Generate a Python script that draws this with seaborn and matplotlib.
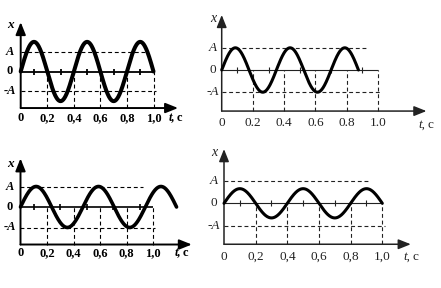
import numpy as np
import pandas as pd
import matplotlib
matplotlib.use("Agg")
import matplotlib.pyplot as plt
import seaborn as sns

# ---------------- data ----------------
major_t = [0.0, 0.2, 0.4, 0.6, 0.8, 1.0]
minor_t = [0.1, 0.3, 0.5, 0.7, 0.9]
labels_comma = ["0", "0,2", "0,4", "0,6", "0,8", "1,0"]
labels_dot = ["0", "0.2", "0.4", "0.6", "0.8", "1.0"]
level_vals = [1, 0, -1]
level_labels = ["A", "0", "-A"]

amplitude = [1.5, 1.0, 1.0, 0.65]      # in units of A
period = [0.4, 0.35, 0.47, 0.4]        # s
duration = [1.0, 0.875, 1.175, 1.0]    # s
a_line_end = [0.94, 0.93, 0.92, 0.92]
nega_line_end = [1.02, 1.01, 1.01, 1.02]

# ---------------- layout / style ----------------
W, H = 441, 288
layouts = [
    dict(ox=20.7, oy=71.5, sx=132.8, sy=19.75, ybot=-1.85, ytop=2.5, xend=1.185,
         bold=True, labels=labels_comma, tly=118, tcx=176, tcy=118, ylx=9.5,
         xlab=(10, 25), clw=2.9, alw=1.4, zlw=1.3, color="black", fs=9),
    dict(ox=221.7, oy=70.0, sx=156.3, sy=22.2, ybot=-1.85, ytop=2.48, xend=1.31,
         bold=False, labels=labels_dot, tly=123, tcx=426, tcy=125, ylx=213,
         xlab=(213, 18), clw=2.2, alw=1.1, zlw=0.8, color="#222222", fs=9.5),
    dict(ox=20.5, oy=207.0, sx=132.8, sy=20.5, ybot=-1.83, ytop=2.37, xend=1.29,
         bold=True, labels=labels_comma, tly=253, tcx=182, tcy=253, ylx=9.5,
         xlab=(10, 164), clw=2.6, alw=1.4, zlw=1.2, color="black", fs=9),
    dict(ox=224.0, oy=203.3, sx=158.3, sy=22.5, ybot=-1.82, ytop=2.41, xend=1.18,
         bold=False, labels=labels_comma, tly=257, tcx=411, tcy=257, ylx=214,
         xlab=(214, 152), clw=2.2, alw=1.1, zlw=0.8, color="#222222", fs=9.5),
]

sns.set_theme(style="white")
plt.rcParams["font.family"] = ["Liberation Serif", "DejaVu Serif"]

fig = plt.figure(figsize=(W / 100, H / 100), dpi=100)

for i, L in enumerate(layouts):
    ax = fig.add_axes([0, 0, 1, 1])
    ax.patch.set_alpha(0)
    ox, oy, sx, sy = L["ox"], L["oy"], L["sx"], L["sy"]
    col = L["color"]
    fw = "bold" if L["bold"] else "normal"
    fs = L["fs"]

    def px2t(px):
        return (px - ox) / sx

    def py2v(py):
        return (oy - py) / sy

    # curve
    t = np.linspace(0, duration[i], 400)
    df = pd.DataFrame({"t": t, "x": amplitude[i] * np.sin(2 * np.pi * t / period[i])})
    sns.lineplot(data=df, x="t", y="x", ax=ax, color="black", lw=L["clw"],
                 estimator=None, sort=False, zorder=5)
    ax.set_xlim(-ox / sx, (W - ox) / sx)
    ax.set_ylim((oy - H) / sy, oy / sy)
    ax.axis("off")

    # dashed guide lines
    dash = dict(color=col, lw=0.8, linestyle=(0, (3.5, 2.5)))
    ax.hlines([level_vals[0]], 0, a_line_end[i], **dash)
    ax.hlines([level_vals[2]], 0, nega_line_end[i], **dash)
    ax.vlines(major_t[1:], L["ybot"], 0, **dash)

    # zero line with ticks
    ax.hlines(0, 0, major_t[-1], color=col, lw=L["zlw"])
    tick_h = 3.0 / sy
    ax.vlines(minor_t, -tick_h, tick_h, color=col, lw=L["zlw"])

    # axes with arrows
    ap = dict(arrowstyle="-|>,head_length=0.75,head_width=0.3", color=col,
              lw=L["alw"], shrinkA=0, shrinkB=0, mutation_scale=10)
    ax.annotate("", xy=(0, L["ytop"]), xytext=(0, L["ybot"]), arrowprops=ap)
    ax.annotate("", xy=(L["xend"], L["ybot"]), xytext=(0, L["ybot"]), arrowprops=ap)

    # tick labels
    for tv, lab in zip(major_t, L["labels"]):
        ax.text(tv, py2v(L["tly"]), lab, ha="center", va="center",
                fontsize=fs, fontweight=fw, color=col)
    # level labels
    for v, lab in zip(level_vals, level_labels):
        ax.text(px2t(L["ylx"]), v, lab, ha="center", va="center", fontsize=fs,
                fontweight=fw, color=col,
                fontstyle="italic" if "A" in lab else "normal")
    # axis names
    ax.text(px2t(L["xlab"][0]), py2v(L["xlab"][1]), "x", ha="center", va="center",
            fontsize=fs + 0.5, fontweight=fw, fontstyle="italic", color=col)
    ax.text(px2t(L["tcx"] - 1), py2v(L["tcy"]), "t,", ha="right", va="center",
            fontsize=fs, fontweight=fw, fontstyle="italic", color=col)
    ax.text(px2t(L["tcx"] + 1), py2v(L["tcy"]), "c", ha="left", va="center",
            fontsize=fs, fontweight=fw, color=col)

fig.savefig("out.png", dpi=100, facecolor="white")
